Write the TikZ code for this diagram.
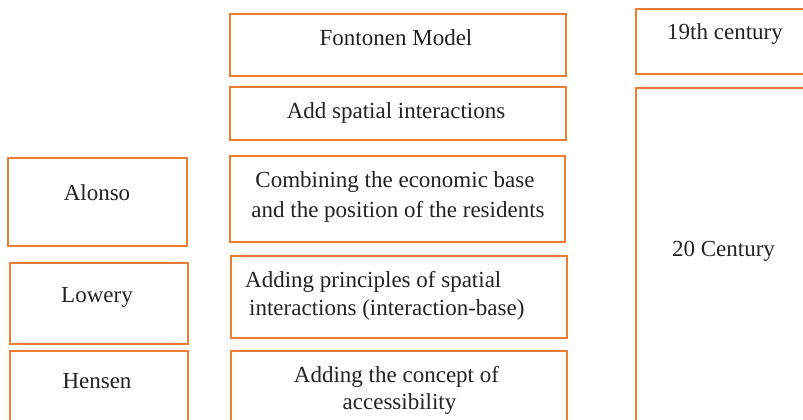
\documentclass[tikz,border=0pt]{standalone}
\usepackage{fontspec}
\setmainfont{Liberation Serif}
\definecolor{boxorange}{HTML}{ED7D31}
\definecolor{txt}{HTML}{222222}
\tikzset{
  box/.style={draw=boxorange, line width=1.6pt},
  lbl/.style={anchor=base, inner sep=0pt, text=txt, font=\fontsize{23}{27}\selectfont},
  lblw/.style={lbl, anchor=base west}
}
\begin{document}
\begin{tikzpicture}[x=1pt,y=-1pt]
\useasboundingbox (0,0) rectangle (803,420);
\clip (0,0) rectangle (803,420);
% left column
\draw[box] (8,158) rectangle (187,246);
\node[lbl] (alonso) at (97,200) {Alonso};
\draw[box] (10,263) rectangle (188,344);
\node[lbl] (lowery) at (97,302) {Lowery};
\draw[box] (10,351) rectangle (188,430);
\node[lbl] (hensen) at (97,388) {Hensen};
% middle column
\draw[box] (230,14) rectangle (566,76);
\node[lbl] (fm) at (396,46) {Fontonen Model};
\draw[box] (230,87) rectangle (566,140);
\node[lbl] (asi) at (396,118) {Add spatial interactions};
\draw[box] (230,156) rectangle (565,242);
\node[lbl] (cb1) at (395,187) {Combining the economic base};
\node[lbl] (cb2) at (398,217) {and the position of the residents};
\draw[box] (231,256) rectangle (567,338);
\node[lblw] (ap1) at (245,287) {Adding principles of spatial};
\node[lblw] (ap2) at (249,315) {interactions (interaction-base)};
\draw[box] (231,351) rectangle (567,430);
\node[lbl] (ac1) at (396.5,382) {Adding the concept of};
\node[lbl] (ac2) at (399.5,409) {accessibility};
% right column
\draw[box] (636,9) rectangle (820,74);
\node[lbl] (c19) at (725,40) {19th century};
\draw[box] (636,88) rectangle (820,430);
\node[lbl] (c20) at (723.5,256) {20 Century};
\end{tikzpicture}
\end{document}
